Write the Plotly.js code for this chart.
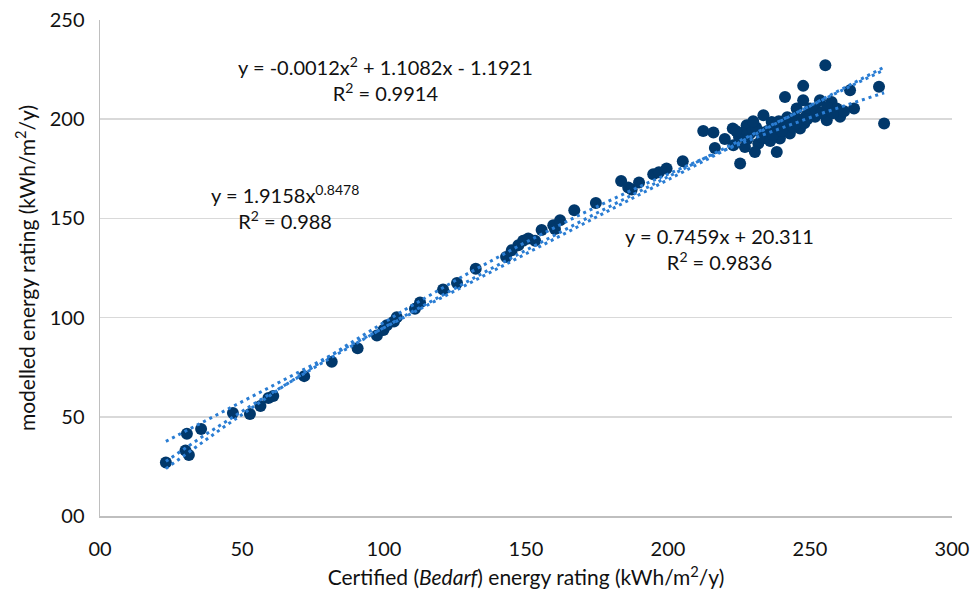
<!DOCTYPE html>
<html>
<head>
<meta charset="utf-8">
<script src="https://cdn.plot.ly/plotly-3.0.1.min.js"></script>
<style>
html,body{margin:0;padding:0;background:#fff;}
#chart{width:976px;height:596px;}
</style>
</head>
<body>
<div id="chart"></div>
<script>
// Certified (Bedarf) energy rating values
const certified = [
  23.2, 30.6, 35.6, 30.1, 31.3, 46.8, 52.8, 56.5, 59.3, 61.0,
  71.9, 81.6, 90.7, 97.5, 99.8, 101.0, 103.5, 104.5, 110.9, 112.7,
  120.8, 125.7, 132.3, 143.0, 145.0, 147.3, 149.0, 150.8, 153.2, 155.5,
  159.6, 160.2, 162.0, 167.0, 174.6, 183.5, 186.0, 187.2, 189.8, 194.8,
  196.8, 199.5, 205.2, 212.4, 216.0, 216.5, 222.8, 223.0, 225.4, 227.7,
  227.1, 231.8, 233.6, 232.4, 236.5, 238.3, 239.4, 241.2, 240.6, 244.1,
  246.5, 247.6, 248.8, 251.8, 253.5, 255.9, 257.6, 260.6, 259.4, 234.7,
  230.6, 242.9, 245.3, 250.0, 237.1, 255.4, 247.6, 264.1, 274.3, 276.1,
  265.5, 220.0, 225.0, 229.0, 231.0, 233.0, 235.0, 236.0, 238.0, 239.0,
  241.0, 243.0, 244.0, 246.0, 248.0, 250.0, 252.0, 254.0, 256.0, 258.0,
  262.0, 237.0, 242.0, 226.0, 228.0, 230.0, 224.0, 240.0, 245.0, 249.0
];
// Modelled energy rating values
const modelled = [
  27.0, 41.5, 43.8, 33.0, 30.7, 51.9, 51.4, 55.4, 59.5, 60.5,
  70.5, 77.7, 84.5, 91.0, 93.7, 96.2, 98.0, 100.2, 104.5, 107.6,
  114.2, 117.4, 124.6, 130.6, 134.0, 136.5, 138.7, 139.9, 138.7, 144.1,
  146.6, 144.6, 149.1, 154.1, 157.8, 168.9, 165.6, 164.6, 168.1, 172.3,
  173.3, 175.2, 178.8, 194.0, 193.3, 185.5, 195.3, 186.9, 177.7, 197.0,
  186.0, 187.8, 202.0, 193.6, 198.6, 183.5, 190.3, 211.2, 196.1, 200.4,
  195.3, 209.6, 202.0, 201.2, 209.6, 199.5, 208.7, 201.2, 205.4, 190.3,
  183.5, 192.8, 205.4, 205.4, 195.3, 227.2, 216.8, 214.6, 216.3, 197.8,
  205.4, 190.0, 191.0, 193.0, 196.0, 191.0, 194.0, 189.0, 197.0, 199.0,
  199.0, 197.0, 196.0, 200.0, 198.0, 203.0, 205.0, 203.0, 206.0, 203.0,
  204.0, 192.0, 201.0, 193.0, 190.0, 199.0, 194.0, 194.0, 198.0, 200.0
];
// Trendline coefficients (as printed on the chart)
const quadCoef = [-0.0012, 1.1082, -1.1921];
const powCoef = [1.9158, 0.8478];
const linCoef = [0.7459, 20.311];
const xTicks = [0, 50, 100, 150, 200, 250, 300];
const xTickText = ["00", "50", "100", "150", "200", "250", "300"];
const yTicks = [0, 50, 100, 150, 200, 250];
const yTickText = ["00", "50", "100", "150", "200", "250"];

const xMin = Math.min(...certified), xMax = Math.max(...certified);
const tx = [];
for (let i = 0; i <= 120; i++) tx.push(xMin + (xMax - xMin) * i / 120);
const quadY = tx.map(x => quadCoef[0]*x*x + quadCoef[1]*x + quadCoef[2]);
const powY = tx.map(x => powCoef[0]*Math.pow(x, powCoef[1]));
const linY = tx.map(x => linCoef[0]*x + linCoef[1]);

const FONT = 'Lato, "Open Sans", sans-serif';
const trendLine = {color: '#2a7dd3', width: 3, dash: '3px,4px'};

const traces = [
  {x: certified, y: modelled, type: 'scatter', mode: 'markers',
   marker: {color: '#01386b', size: 12, line: {width: 0}}, hoverinfo: 'x+y'},
  {x: tx, y: quadY, type: 'scatter', mode: 'lines', line: trendLine},
  {x: tx, y: powY, type: 'scatter', mode: 'lines', line: trendLine},
  {x: tx, y: linY, type: 'scatter', mode: 'lines', line: trendLine}
];

const annFont = {family: FONT, size: 20, color: '#111'};
const layout = {
  width: 976, height: 596,
  margin: {l: 100, r: 24, t: 20, b: 80},
  paper_bgcolor: '#fff', plot_bgcolor: '#fff',
  showlegend: false,
  font: {family: FONT, size: 20, color: '#111'},
  xaxis: {
    range: [0, 300], tickvals: xTicks, ticktext: xTickText,
    showgrid: false, zeroline: false,
    showline: true, linecolor: '#bfbfbf', linewidth: 1.5,
    ticks: '', ticklabelstandoff: 14,
    tickfont: {family: FONT, size: 20, color: '#111'},
    title: {text: 'Certified (<i>Bedarf</i>) energy rating (kWh/m<sup>2</sup>/y)',
            font: {family: FONT, size: 21, color: '#111'}, standoff: 12}
  },
  yaxis: {
    range: [0, 250], tickvals: yTicks, ticktext: yTickText,
    showgrid: true, gridcolor: '#d9d9d9', gridwidth: 1.5, zeroline: false,
    showline: true, linecolor: '#bfbfbf', linewidth: 1.5,
    ticks: '', ticklabelstandoff: 10,
    tickfont: {family: FONT, size: 20, color: '#111'},
    title: {text: 'modelled energy rating (kWh/m<sup>2</sup>/y)',
            font: {family: FONT, size: 21, color: '#111'}, standoff: 8}
  },
  annotations: [
    {x: 100.4, y: 220.2, xref: 'x', yref: 'y', showarrow: false, align: 'center',
     text: 'y = -0.0012x<sup>2</sup> + 1.1082x - 1.1921<br>R<sup>2</sup> = 0.9914', font: annFont},
    {x: 65.1, y: 155.7, xref: 'x', yref: 'y', showarrow: false, align: 'center',
     text: 'y = 1.9158x<sup>0.8478</sup><br>R<sup>2</sup> = 0.988', font: annFont},
    {x: 218.3, y: 134.5, xref: 'x', yref: 'y', showarrow: false, align: 'center',
     text: 'y = 0.7459x + 20.311<br>R<sup>2</sup> = 0.9836', font: annFont}
  ]
};

Plotly.newPlot('chart', traces, layout, {displayModeBar: false, staticPlot: true});
</script>
</body>
</html>
